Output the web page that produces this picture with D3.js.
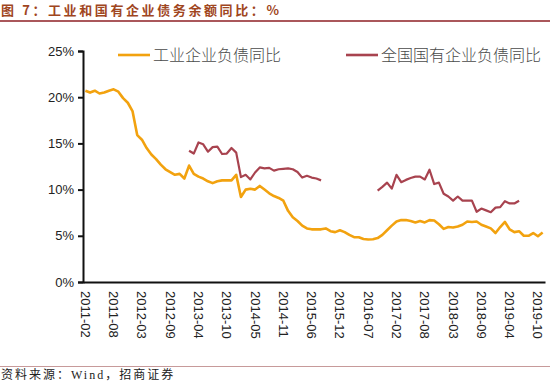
<!DOCTYPE html>
<html>
<head>
<meta charset="utf-8">
<script src="https://d3js.org/d3.v7.min.js"></script>
<style>
  body { margin: 0; background: #fff; }
  svg { display: block; font-family: "Liberation Sans", Arial, sans-serif; }
</style>
</head>
<body>
<svg id="chart" width="550" height="383"></svg>
<script>
// months Feb..Dec, January is not published
const categories = [];
for (let yr = 2011; yr <= 2019; yr++) {
  for (let m = 2; m <= 12; m++) {
    if (yr === 2019 && m > 11) break;
    categories.push(yr + "-" + String(m).padStart(2, "0"));
  }
}

const yTicks = [0, 5, 10, 15, 20, 25];

// 工业企业负债同比, 2011-02 .. 2019-11
const industryVals = [
  20.7, 20.5, 20.7, 20.4, 20.5, 20.7, 20.85, 20.6, 19.9, 19.4,
  18.5, 15.9, 15.4, 14.5, 13.8, 13.3, 12.7, 12.2, 11.9, 11.6,
  11.7, 11.2, 12.6, 11.7, 11.4, 11.2, 10.9, 10.7, 10.9, 11.0,
  11.0, 11.0, 11.6, 9.2, 10.0, 10.1, 10.0, 10.4, 10.0, 9.6,
  9.3, 9.1, 8.8, 7.7, 7.0, 6.6, 6.1, 5.8, 5.7, 5.7,
  5.7, 5.8, 5.5, 5.4, 5.6, 5.4, 5.1, 4.85, 4.85, 4.65,
  4.6, 4.62, 4.75, 5.1, 5.6, 6.1, 6.55, 6.7, 6.7, 6.6,
  6.45, 6.6, 6.45, 6.7, 6.65, 6.25, 5.75, 5.95, 5.9, 6.0,
  6.2, 6.55, 6.5, 6.55, 6.2, 6.0, 5.8, 5.3, 5.95, 6.5,
  5.7, 5.4, 5.5, 5.0, 5.0, 5.3, 4.95, 5.35
];

// 全国国有企业负债同比, two stretches
const soeStart1 = "2013-02";
const soeVals1 = [
  14.2, 13.9, 15.1, 14.9, 14.1, 14.6, 14.65, 13.85, 13.9, 14.5,
  14.0, 11.35, 11.6, 11.1, 11.85, 12.4, 12.3, 12.35, 12.05, 12.2,
  12.25, 12.3, 12.2, 11.9, 11.3, 11.5, 11.3, 11.2, 11.0
];
const soeStart2 = "2016-09";
const soeVals2 = [
  9.9, 10.3, 10.75, 10.1, 11.6, 10.8, 11.05, 11.25, 11.4, 11.4,
  11.1, 12.15, 10.6, 10.75, 9.55, 9.25, 8.8, 9.25, 8.8, 8.8,
  8.8, 7.6, 7.95, 7.75, 7.55, 8.05, 8.1, 8.75, 8.5, 8.5, 8.8
];

const svg = d3.select("#chart");
const plotLeft = 83, plotRight = 545, plotTop = 51, plotBottom = 282;

const x = d3.scaleBand().domain(categories).range([plotLeft, plotRight]).padding(0);
const y = d3.scaleLinear().domain([0, 25]).range([plotBottom, plotTop]);
const cx = c => x(c) + x.bandwidth() / 2;

// title
svg.append("text")
  .attr("x", 1).attr("y", 15)
  .style("font-family", "'Noto Sans CJK SC', sans-serif")
  .style("font-size", "13px")
  .style("font-weight", "bold")
  .style("letter-spacing", "2.6px")
  .attr("fill", "#a0461e")
  .text("图 7：工业和国有企业债务余额同比：%");

svg.append("line")
  .attr("x1", 0).attr("x2", 550).attr("y1", 21).attr("y2", 21)
  .attr("stroke", "#8e1f25").attr("stroke-width", 1.5);

// axes
let leftAxis = d3.axisLeft(y).tickValues(yTicks).tickSize(5).tickPadding(4)
  .tickFormat(d => d + "%");
let leftG = svg.append("g").attr("transform", `translate(${plotLeft},0)`).call(leftAxis);
leftG.select(".domain").attr("stroke", "#111").attr("stroke-width", 2);
leftG.selectAll(".tick line").attr("stroke", "#111").attr("stroke-width", 2);
leftG.selectAll(".tick text").attr("fill", "#222")
  .style("font-size", "13px").style("font-family", "'Liberation Sans', Arial, sans-serif");

let bottomAxis = d3.axisBottom(x)
  .tickValues(categories.filter((c, i) => i % 6 === 0))
  .tickSize(0).tickPadding(0);
let bottomG = svg.append("g").attr("transform", `translate(0,${plotBottom})`).call(bottomAxis);
bottomG.select(".domain").attr("stroke", "#111").attr("stroke-width", 2);
bottomG.selectAll(".tick text")
  .attr("fill", "#222")
  .style("font-size", "13px").style("font-family", "'Liberation Sans', Arial, sans-serif")
  .attr("text-anchor", "start")
  .attr("y", 0)
  .attr("dy", "0.35em")
  .attr("transform", "translate(0,9) rotate(90)");

// lines
const line = d3.line()
  .x(d => cx(d.cat))
  .y(d => y(d.v));

const industry = industryVals.map((v, i) => ({ cat: categories[i], v: v }));
function seg(start, vals) {
  const s = categories.indexOf(start);
  return vals.map((v, i) => ({ cat: categories[s + i], v: v }));
}

svg.append("path").datum(industry)
  .attr("d", line)
  .attr("fill", "none").attr("stroke", "#f2a20f")
  .attr("stroke-width", 2.6).attr("stroke-linejoin", "round");

[seg(soeStart1, soeVals1), seg(soeStart2, soeVals2)].forEach(s => {
  svg.append("path").datum(s)
    .attr("d", line)
    .attr("fill", "none").attr("stroke", "#a8434f")
    .attr("stroke-width", 2.2).attr("stroke-linejoin", "round");
});

// legend
const legend = [
  { name: "工业企业负债同比", color: "#f2a20f", x: 118 },
  { name: "全国国有企业负债同比", color: "#a8434f", x: 346 }
];
legend.forEach(l => {
  svg.append("line")
    .attr("x1", l.x).attr("x2", l.x + 32).attr("y1", 55).attr("y2", 55)
    .attr("stroke", l.color).attr("stroke-width", 2.6);
  svg.append("text")
    .attr("x", l.x + 35).attr("y", 55).attr("dy", "0.36em")
    .style("font-family", "'Noto Sans CJK SC', sans-serif")
    .style("font-size", "16px").style("font-weight", 300)
    .attr("fill", "#4a4a4a")
    .text(l.name);
});

// source
svg.append("line")
  .attr("x1", 0).attr("x2", 550).attr("y1", 366.5).attr("y2", 366.5)
  .attr("stroke", "#c79a9a").attr("stroke-width", 1);
svg.append("text")
  .attr("x", 1).attr("y", 379)
  .style("font-family", "'Liberation Serif', 'Noto Sans CJK SC', serif")
  .style("font-size", "12px")
  .style("letter-spacing", "2px")
  .attr("fill", "#222")
  .text("资料来源：Wind，招商证券");
</script>
</body>
</html>
